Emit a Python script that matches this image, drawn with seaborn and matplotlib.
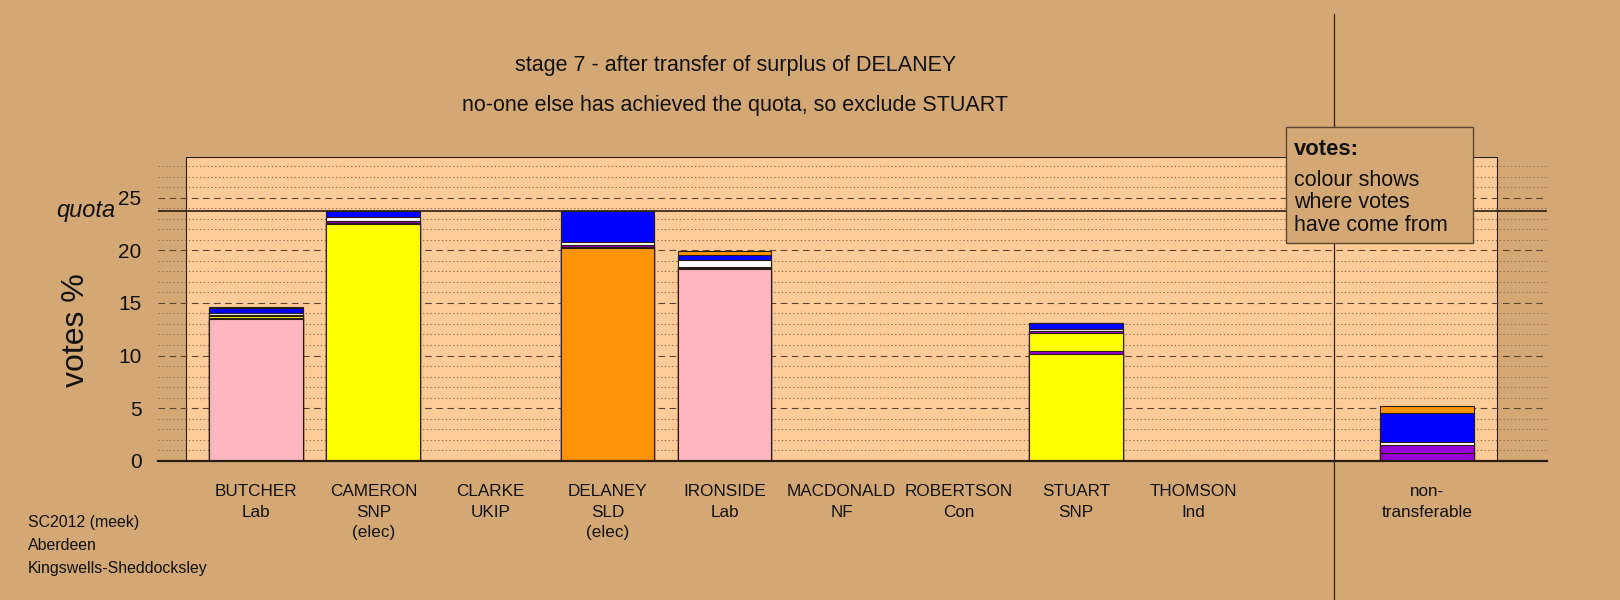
import numpy as np
import pandas as pd
import matplotlib
matplotlib.use("Agg")
import matplotlib.pyplot as plt
import matplotlib.transforms as mtransforms
from matplotlib.patches import Rectangle
from matplotlib.lines import Line2D
import seaborn as sns

# ── data ──────────────────────────────────────────────────────
labels = ["BUTCHER\nLab", "CAMERON\nSNP\n(elec)", "CLARKE\nUKIP", "DELANEY\nSLD\n(elec)",
          "IRONSIDE\nLab", "MACDONALD\nNF", "ROBERTSON\nCon", "STUART\nSNP",
          "THOMSON\nInd", "non-\ntransferable"]
positions = [0, 1, 2, 3, 4, 5, 6, 7, 8, 10]
own_colours = ["#FFB6C1", "#FFFF00", "#9A00D8", "#FF9408", "#FFB6C1",
               "#9A00D8", "#0000FF", "#FFFF00", "#FFFFFF", "#9A00D8"]

own_votes       = [13.5, 22.5, 0, 20.2, 18.2, 0, 0, 10.1, 0, 0]
clarke_votes    = [0.1, 0.1, 0, 0.1, 0.15, 0, 0, 0.3, 0, 0.75]
cameron_votes   = [0.15, 0, 0, 0, 0, 0, 0, 1.7, 0, 0]
macdonald_votes = [0.15, 0.25, 0, 0.25, 0.1, 0, 0, 0.25, 0, 0.7]
thomson_votes   = [0.1, 0.35, 0, 0.25, 0.6, 0, 0, 0.2, 0, 0.35]
robertson_votes = [0.55, 0.6, 0, 3.0, 0.5, 0, 0, 0.5, 0, 2.75]
delaney_votes   = [0.1, 0, 0, 0, 0.4, 0, 0, 0, 0, 0.65]

quota = 23.8
divider_x = 9.2

layers = [
    ("own", own_votes, None),
    ("CLARKE", clarke_votes, "#9A00D8"),
    ("CAMERON", cameron_votes, "#FFFF00"),
    ("MACDONALD", macdonald_votes, "#9A00D8"),
    ("THOMSON", thomson_votes, "#FFFFFF"),
    ("ROBERTSON", robertson_votes, "#0000FF"),
    ("DELANEY", delaney_votes, "#FF9408"),
]

bg = "#D4A874"
inner = "#FFCC99"
ink = "#2a1e12"

sns.set_style("white")
plt.rcParams['font.family'] = ['Liberation Sans', 'DejaVu Sans']

fig = plt.figure(figsize=(16.2, 6.0), dpi=100, facecolor=bg)
ax = fig.add_axes([0.0976, 0.2324, 0.8571, 0.506])
ax.set_facecolor(bg)

# cumulative tops, drawn from the top layer down
cum = np.cumsum([np.array(v) for _, v, _ in layers], axis=0)
for i in range(len(layers) - 1, -1, -1):
    name, _, col = layers[i]
    df = pd.DataFrame({"pos": positions, "votes": cum[i]})
    kw = dict(x="pos", y="votes", native_scale=True, orient="x", width=0.8,
              errorbar=None, saturation=1, edgecolor=ink, linewidth=0.8,
              ax=ax, zorder=2)
    if col is None:
        sns.barplot(data=df, hue="pos", palette=dict(zip(positions, own_colours)),
                    dodge=False, legend=False, **kw)
    else:
        sns.barplot(data=df, color=col, **kw)

ax.set_xlim(-0.838, 11.02)
ax.set_ylim(0, 28.9)

# inner plot box
ax.add_patch(Rectangle((-0.6, 0), 11.2, 28.9, facecolor=inner, edgecolor=ink,
                       linewidth=0.8, zorder=0.2))

ax.set_yticks(range(0, 26, 5))
ax.set_yticks(range(0, 29), minor=True)
ax.set_axisbelow(True)
ax.grid(which="major", axis="y", linestyle=(0, (6, 4)), color="#5c4630", lw=0.8)
ax.grid(which="minor", axis="y", linestyle=(0, (1.2, 2.2)), color="#8a7050", lw=0.8)
ax.grid(axis="x", visible=False)

ax.axhline(quota, color=ink, lw=1.2, zorder=3)
ax.text(-1.2, quota, "quota", ha="right", va="center", style="italic",
        fontsize=17, color="#111111", clip_on=False)

ax.set_xticks(positions)
ax.set_xticklabels(labels, fontsize=12.3, linespacing=1.45, color="#111111")
ax.tick_params(axis="x", length=0, pad=17)
ax.tick_params(axis="y", which="both", length=0, pad=12, labelsize=15,
               labelcolor="#111111")
ax.set_xlabel("")
ax.set_ylabel("votes %", fontsize=23, color="#111111")
ax.yaxis.set_label_coords(-0.048, 0.43)

for s in ["top", "right", "left"]:
    ax.spines[s].set_visible(False)
ax.spines["bottom"].set_color(ink)
ax.spines["bottom"].set_linewidth(1.6)

# divider between candidates and non-transferable
trans = mtransforms.blended_transform_factory(ax.transData, fig.transFigure)
fig.add_artist(Line2D([divider_x, divider_x], [0, 0.976], transform=trans,
                      color=ink, lw=0.9, zorder=3))

# titles
fig.text(0.454, 0.891, "stage 7 - after transfer of surplus of DELANEY",
         ha="center", va="center", fontsize=15.5, color="#111111")
fig.text(0.454, 0.824, "no-one else has achieved the quota, so exclude STUART",
         ha="center", va="center", fontsize=15.5, color="#111111")

# note box
fig.add_artist(Rectangle((0.794, 0.595), 0.115, 0.193, transform=fig.transFigure,
                         facecolor=bg, edgecolor="#5c4630", lw=1.0, zorder=5))
fig.text(0.799, 0.751, "votes:", ha="left", va="center", fontsize=15.8,
         fontweight="bold", color="#111111", zorder=6)
fig.text(0.799, 0.662, "colour shows\nwhere votes\nhave come from", ha="left",
         va="center", fontsize=15.5, linespacing=1.1, color="#111111", zorder=6)

# source note
fig.text(0.017, 0.091, "SC2012 (meek)\nAberdeen\nKingswells-Sheddocksley",
         ha="left", va="center", fontsize=11.4, linespacing=1.7, color="#111111")

fig.savefig("out.png", dpi=100, facecolor=bg)
